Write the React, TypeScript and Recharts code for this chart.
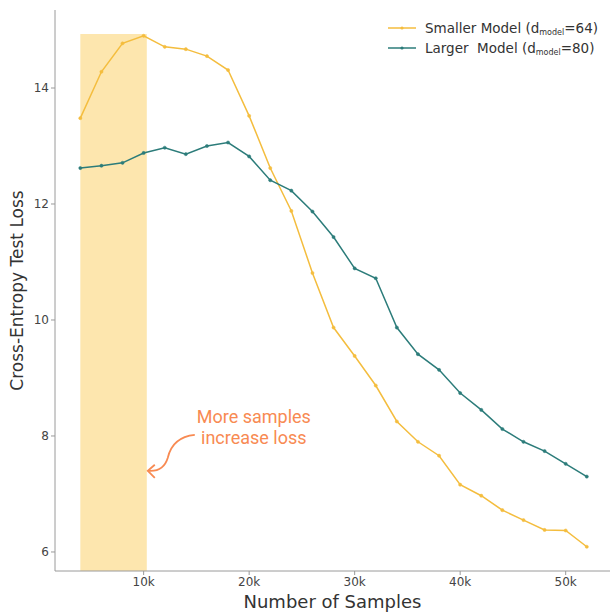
import React from 'react';
import { LineChart, Line, XAxis, YAxis, ReferenceArea, ReferenceDot, Legend } from 'recharts';

document.body.style.margin = '0';

const samples = [4000, 6000, 8000, 10000, 12000, 14000, 16000, 18000, 20000, 22000, 24000, 26000, 28000,
    30000, 32000, 34000, 36000, 38000, 40000, 42000, 44000, 46000, 48000, 50000, 52000];
const smallerLoss = [13.48, 14.28, 14.77, 14.9, 14.71, 14.67, 14.55, 14.31, 13.52, 12.62, 11.88, 10.81, 9.87,
    9.38, 8.87, 8.25, 7.9, 7.66, 7.16, 6.97, 6.72, 6.55, 6.38, 6.37, 6.09];
const largerLoss = [12.62, 12.66, 12.71, 12.88, 12.97, 12.86, 13.0, 13.06, 12.82, 12.41, 12.23, 11.87, 11.43,
    10.89, 10.72, 9.87, 9.41, 9.14, 8.74, 8.45, 8.12, 7.9, 7.74, 7.52, 7.3];

const xTicks = [10000, 20000, 30000, 40000, 50000];
const yTicks = [6, 8, 10, 12, 14];
const seriesNames = ['Smaller Model', 'Larger  Model'];
const seriesDims = [64, 80];
const highlightRange = [4000, 10300];
const highlightTop = 14.93;
const annotationLines = ['More samples', 'increase loss'];
const annotationY = 7.4;

const X_DOMAIN: [number, number] = [1600, 54200];
const Y_DOMAIN: [number, number] = [5.672, 15.345];

const YELLOW = '#F4BD3E';
const TEAL = '#2C7C7A';
const SHADE = '#FDE6AE';
const ORANGE = '#F88A52';
const SPINE = '#9a9a9a';

const data = samples.map((s, i) => ({ samples: s, smaller: smallerLoss[i], larger: largerLoss[i] }));
const colors = [YELLOW, TEAL];

const renderLegend = () => (
    <div style={{ fontFamily: 'DejaVu Sans', fontSize: 13.5, color: '#333' }}>
        {seriesNames.map((name, i) => (
            <div key={name} style={{ display: 'flex', alignItems: 'center', height: 20, whiteSpace: 'pre' }}>
                <svg width={28} height={8}>
                    <line x1={0} y1={4} x2={28} y2={4} stroke={colors[i]} strokeWidth={1.5} />
                    <circle cx={14} cy={4} r={1.6} fill={colors[i]} />
                </svg>
                <span style={{ marginLeft: 9 }}>
                    {name} (d<sub style={{ fontSize: 8, verticalAlign: '-2px' }}>model</sub>={seriesDims[i]})
                </span>
            </div>
        ))}
    </div>
);

const Annotation = (props: any) => {
    const { cx, cy } = props;
    if (cx == null || cy == null) return null;
    return (
        <g>
            <path
                d={`M${cx + 48},${cy - 36} C${cx + 28},${cy - 34} ${cx + 23},${cy - 22} ${cx + 21},${cy - 13} C${cx + 18},${cy - 3} ${cx + 11},${cy + 1} ${cx + 1},${cy}`}
                fill="none" stroke={ORANGE} strokeWidth={1.8} />
            <path d={`M${cx + 8},${cy - 6} L${cx + 1},${cy} L${cx + 8},${cy + 7}`} fill="none" stroke={ORANGE} strokeWidth={1.8} />
            {annotationLines.map((t, i) => (
                <text key={t} x={cx + 107} y={cy - 54 + i * 21} textAnchor="middle" dominantBaseline="central"
                    fill={ORANGE} fontFamily="Roboto" fontSize={18}>{t}</text>
            ))}
        </g>
    );
};

const App: React.FC = () => {
    return (
        <LineChart width={610} height={612} data={data} margin={{ top: 10, right: 0, left: 0, bottom: 0 }}>
            <ReferenceArea x1={highlightRange[0]} x2={highlightRange[1]} y1={Y_DOMAIN[0]} y2={highlightTop}
                fill={SHADE} fillOpacity={1} stroke="none" />
            <XAxis
                dataKey="samples"
                type="number"
                domain={X_DOMAIN}
                allowDataOverflow
                ticks={xTicks}
                tickFormatter={(v: number) => `${v / 1000}k`}
                height={41}
                stroke={SPINE}
                tickSize={4}
                tick={{ fill: '#444', fontSize: 12, fontFamily: 'DejaVu Sans' }}
                label={{ value: 'Number of Samples', position: 'insideBottom', offset: 4, fill: '#333', fontSize: 18, fontFamily: 'DejaVu Sans' }}
            />
            <XAxis xAxisId="top" orientation="top" type="number" domain={X_DOMAIN} height={0} tick={false} tickLine={false} stroke={SPINE} />
            <YAxis
                type="number"
                domain={Y_DOMAIN}
                allowDataOverflow
                ticks={yTicks}
                width={55}
                stroke={SPINE}
                tickSize={4}
                tick={{ fill: '#444', fontSize: 12, fontFamily: 'DejaVu Sans' }}
                label={{ value: 'Cross-Entropy Test Loss', angle: -90, position: 'insideLeft', offset: 17,
                    style: { textAnchor: 'middle' }, fill: '#333', fontSize: 17, fontFamily: 'DejaVu Sans' }}
            />
            <Legend layout="vertical" align="center" verticalAlign="middle" content={renderLegend}
                wrapperStyle={{ top: 18, left: 388, width: 'auto' }} />
            <Line dataKey="smaller" name="Smaller Model" stroke={YELLOW} strokeWidth={1.5}
                dot={{ r: 1.6, fill: YELLOW, stroke: YELLOW, strokeWidth: 0.5 }} isAnimationActive={false} />
            <Line dataKey="larger" name="Larger  Model" stroke={TEAL} strokeWidth={1.5}
                dot={{ r: 1.6, fill: TEAL, stroke: TEAL, strokeWidth: 0.5 }} isAnimationActive={false} />
            <ReferenceDot x={highlightRange[1]} y={annotationY} r={0} shape={<Annotation />} />
        </LineChart>
    );
};

export default App;
